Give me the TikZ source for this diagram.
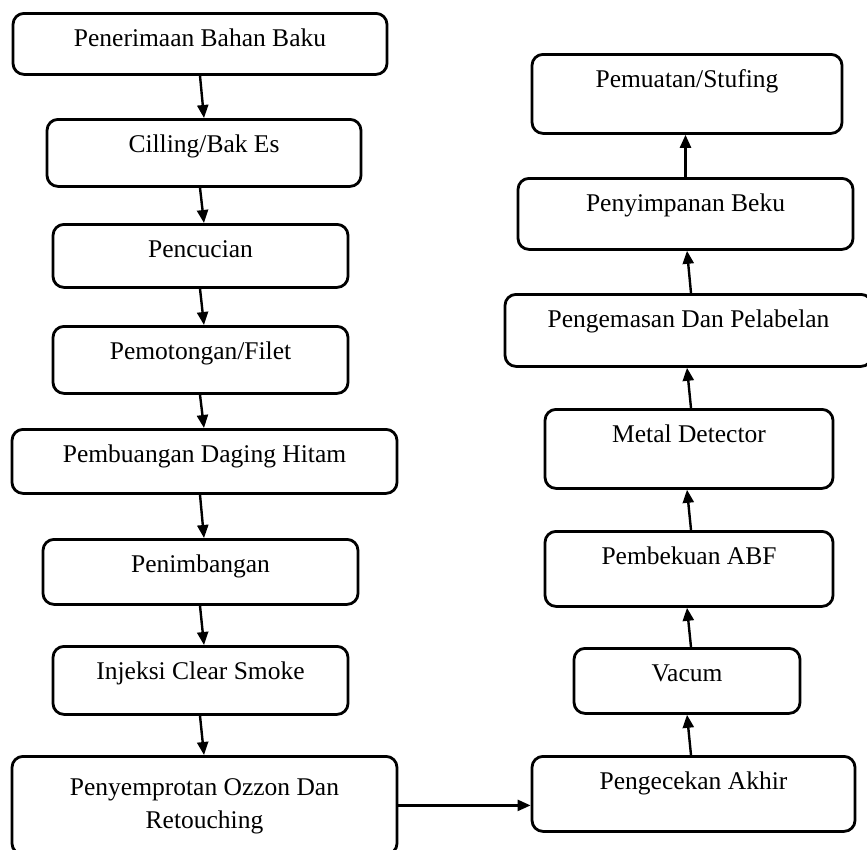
\documentclass[tikz,border=0pt]{standalone}
\usepackage{fontspec}
\setmainfont{Liberation Serif}
\usetikzlibrary{arrows.meta}

\begin{document}
\begin{tikzpicture}[x=1pt, y=-1pt,
    stepbox/.style = {draw, rectangle, rounded corners=11pt, line width=2.8pt, inner sep=0pt,
        anchor=north, text height=33pt, font=\fontsize{25.5}{33}\selectfont},
    flow/.style = {-{Triangle[length=13pt, width=11pt]}, line width=2.4pt}]
    \useasboundingbox (0,0) rectangle (867,849);

    % left column
    \node[stepbox, minimum width=374, text depth=28] (recv) at (200,12) {Penerimaan Bahan Baku};
    \node[stepbox, minimum width=314, text depth=34] (chill) at (204,118) {Cilling/Bak Es};
    \node[stepbox, minimum width=295, text depth=30] (wash) at (200.5,223) {Pencucian};
    \node[stepbox, minimum width=295, text depth=34] (cut) at (200.5,325) {Pemotongan/Filet};
    \node[stepbox, minimum width=385, text depth=31] (trim) at (204.5,428) {Pembuangan Daging Hitam};
    \node[stepbox, minimum width=315, text depth=32] (weigh) at (200.5,538) {Penimbangan};
    \node[stepbox, minimum width=295, text depth=35] (inject) at (200.5,645) {Injeksi Clear Smoke};
    \node[stepbox, minimum width=385, text height=72, text depth=26, align=center] (spray) at (204.5,755)
        {Penyemprotan Ozzon Dan\\Retouching};

    % right column
    \node[stepbox, minimum width=323, text depth=42] (check) at (693.5,755) {Pengecekan Akhir};
    \node[stepbox, minimum width=226, text depth=32] (vac) at (687,647) {Vacum};
    \node[stepbox, minimum width=288, text depth=42] (freeze) at (689,530) {Pembekuan ABF};
    \node[stepbox, minimum width=288, text depth=46] (metal) at (689,408) {Metal Detector};
    \node[stepbox, minimum width=367, text depth=39] (pack) at (688.5,293) {Pengemasan Dan Pelabelan};
    \node[stepbox, minimum width=335, text depth=38] (store) at (685.5,177) {Penyimpanan Beku};
    \node[stepbox, minimum width=310, text depth=46] (load) at (687,53) {Pemuatan/Stufing};

    \coordinate (lt) at (200,0);
    \coordinate (lb) at (204,0);
    \coordinate (rt) at (691,0);
    \coordinate (rb) at (687,0);

    \draw[flow] (recv.south -| lt) -- (chill.north -| lb);
    \draw[flow] (chill.south -| lt) -- (wash.north -| lb);
    \draw[flow] (wash.south -| lt) -- (cut.north -| lb);
    \draw[flow] (cut.south -| lt) -- (trim.north -| lb);
    \draw[flow] (trim.south -| lt) -- (weigh.north -| lb);
    \draw[flow] (weigh.south -| lt) -- (inject.north -| lb);
    \draw[flow] (inject.south -| lt) -- (spray.north -| lb);
    \draw[flow] (spray.east) -- (spray.east -| check.west);
    \draw[flow] (check.north -| rt) -- (vac.south -| rb);
    \draw[flow] (vac.north -| rt) -- (freeze.south -| rb);
    \draw[flow] (freeze.north -| rt) -- (metal.south -| rb);
    \draw[flow] (metal.north -| rt) -- (pack.south -| rb);
    \draw[flow] (pack.north -| rt) -- (store.south -| rb);
    \draw[flow] (store.north) -- (load.south -| store.north);
\end{tikzpicture}
\end{document}
